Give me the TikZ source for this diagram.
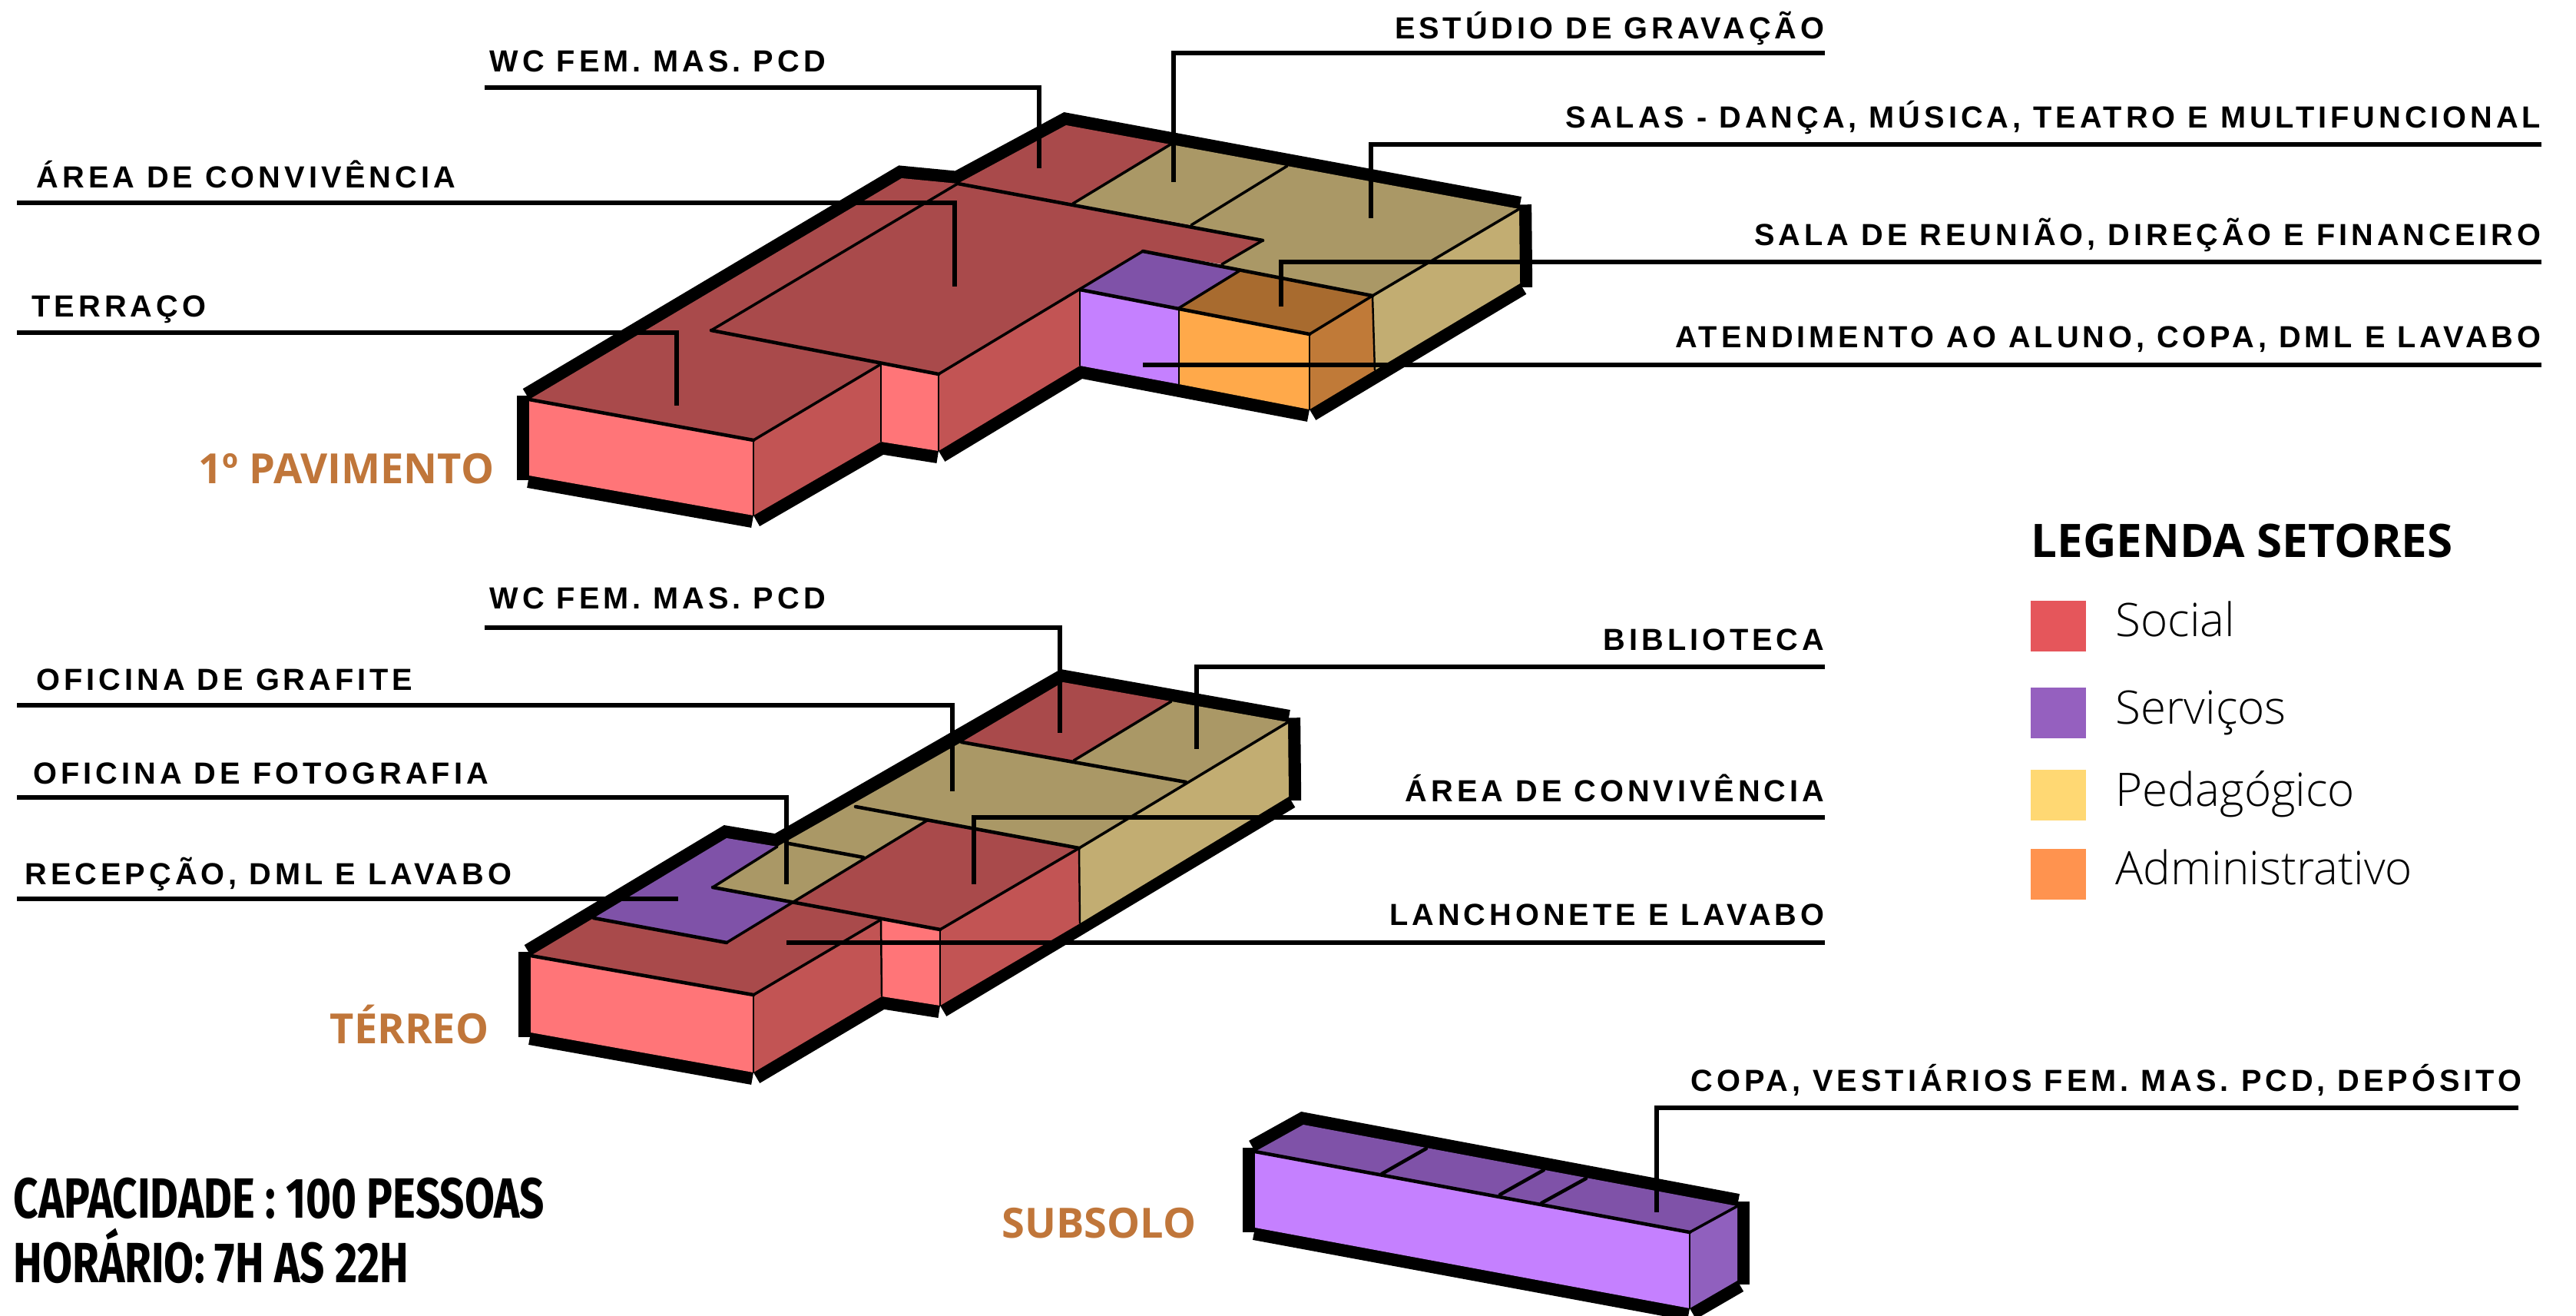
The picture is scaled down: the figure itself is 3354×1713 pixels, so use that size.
\documentclass[tikz,border=0pt]{standalone}
\usepackage{fontspec}
\setmainfont{Liberation Sans}
\newfontfamily\labelfont[LetterSpace=12.5]{Liberation Sans Bold}
\newfontfamily\floorfont{Open Sans}
\newfontfamily\legendfont{Open Sans}
\newfontfamily\lightfont{Open Sans Light}
\newfontfamily\notefont[FakeStretch=0.765]{Fira Sans Bold}
\usetikzlibrary{positioning}
\definecolor{roofred}{HTML}{A94A4B}
\definecolor{wallred}{HTML}{C25454}
\definecolor{frontred}{HTML}{FF7578}
\definecolor{rooftan}{HTML}{AA9866}
\definecolor{walltan}{HTML}{C2AD72}
\definecolor{roofpurple}{HTML}{7F52A8}
\definecolor{frontpurple}{HTML}{C580FF}
\definecolor{wallpurple}{HTML}{9060BE}
\definecolor{rooforange}{HTML}{A86B2F}
\definecolor{frontorange}{HTML}{FFA94A}
\definecolor{wallorange}{HTML}{C07A38}
\definecolor{floorcolor}{HTML}{C0763A}
\tikzset{
    heavy/.style = {
        draw=black,
        line width=9.2pt,
        line cap=butt
    },
    stub/.style = {shorten <=-1.6pt, shorten >=-1.4pt},
    strong/.style = {draw=black, line width=1.3pt, line cap=round},
    medium/.style = {draw=black, line width=1pt, line cap=round},
    thin wall/.style = {draw=black, line width=0.7pt},
    leader/.style = {draw=black, line width=1.6pt},
    tagleft/.style = {anchor=base west, inner sep=0, font=\labelfont\fontsize{11.3}{13}\selectfont},
    tagright/.style = {anchor=base east, inner sep=0, font=\labelfont\fontsize{11.3}{13}\selectfont},
    floorname/.style = {anchor=base east, inner sep=0, text=floorcolor, font=\floorfont\bfseries\fontsize{15.4}{18}\selectfont},
    swatch/.style = {anchor=north west, inner sep=0, minimum width=20.5pt, minimum height=18.8pt},
    swatchname/.style = {anchor=base west, inner sep=0, font=\lightfont\fontsize{17.1}{20}\selectfont},
    note/.style = {anchor=base west, inner sep=0, font=\notefont\fontsize{21}{24}\selectfont},
}

\begin{document}
\begin{tikzpicture}[x=0.01cm, y=-0.01cm]
    \useasboundingbox (0,0) rectangle (3354,1713);

    % 1o pavimento
    \coordinate (a1) at (689,520);
    \coordinate (a1b) at (689,619);
    \coordinate (b1) at (981,573);
    \coordinate (b1b) at (981,671);
    \coordinate (c1) at (1147,474);
    \coordinate (c1b) at (1147,575);
    \coordinate (d1) at (1222,487);
    \coordinate (d1b) at (1222,587);
    \coordinate (e1) at (1406,377);
    \coordinate (e1b) at (1406,476);
    \coordinate (p1) at (1535,401);
    \coordinate (p1b) at (1535,500);
    \coordinate (o1) at (1705,435);
    \coordinate (o1b) at (1705,533);
    \coordinate (g1) at (1787,385);
    \coordinate (g1b) at (1790,482);
    \coordinate (h1) at (1978,272);
    \coordinate (h1b) at (1979,369);
    \coordinate (i1) at (1388,163);
    \coordinate (j1) at (1524,188);
    \coordinate (k1) at (1397,265);
    \coordinate (l1) at (1676,216);
    \coordinate (m1) at (1551,293);
    \coordinate (n1) at (1644,313);
    \coordinate (q1) at (1591,344);
    \coordinate (f1) at (1488,327);
    \coordinate (r1) at (1613,353);
    \coordinate (s1) at (1174,232);
    \coordinate (t1) at (1247,239);
    \coordinate (u1) at (926,430);

    \path[heavy] (a1) -- (s1) -- (t1) -- (i1) -- (h1);
    \path[heavy, stub] (h1) -- (h1b);
    \path[heavy] (h1b) -- (o1b);
    \path[heavy] (o1b) -- (e1b);
    \path[heavy] (e1b) -- (d1b);
    \path[heavy] (d1b) -- (c1b);
    \path[heavy] (c1b) -- (b1b);
    \path[heavy] (b1b) -- (a1b);
    \path[heavy, stub] (a1b) -- (a1);

    \fill[roofred] (a1) -- (s1) -- (t1) -- (i1) -- (j1) -- (k1) -- (m1) -- (n1) -- (q1) -- (f1) -- (e1) -- (d1) -- (c1) -- (b1) -- cycle;
    \fill[rooftan] (j1) -- (h1) -- (g1) -- (r1) -- (q1) -- (n1) -- (m1) -- (k1) -- cycle;
    \fill[roofpurple] (f1) -- (r1) -- (p1) -- (e1) -- cycle;
    \fill[rooforange] (r1) -- (g1) -- (o1) -- (p1) -- cycle;
    \fill[frontred] (a1) -- (b1) -- (b1b) -- (a1b) -- cycle;
    \fill[wallred] (b1) -- (c1) -- (c1b) -- (b1b) -- cycle;
    \fill[frontred] (c1) -- (d1) -- (d1b) -- (c1b) -- cycle;
    \fill[wallred] (d1) -- (e1) -- (e1b) -- (d1b) -- cycle;
    \fill[frontpurple] (e1) -- (p1) -- (p1b) -- (e1b) -- cycle;
    \fill[frontorange] (p1) -- (o1) -- (o1b) -- (p1b) -- cycle;
    \fill[wallorange] (o1) -- (g1) -- (g1b) -- (o1b) -- cycle;
    \fill[walltan] (g1) -- (h1) -- (h1b) -- (g1b) -- cycle;

    \path[strong] (t1) -- (n1);
    \path[strong] (f1) -- (g1);
    \path[strong] (e1) -- (o1);
    \path[strong] (a1) -- (b1);
    \path[strong] (u1) -- (d1);
    \path[medium] (t1) -- (u1);
    \path[medium] (n1) -- (q1);
    \path[medium] (j1) -- (k1);
    \path[medium] (l1) -- (m1);
    \path[medium] (f1) -- (d1);
    \path[medium] (r1) -- (p1);
    \path[medium] (g1) -- (o1);
    \path[medium] (g1) -- (h1);
    \path[medium] (b1) -- (c1);
    \foreach \w in {b1,c1,d1,e1,p1,o1,g1}
        \path[thin wall] (\w) -- (\w b);

    % terreo
    \coordinate (a2) at (691,1244);
    \coordinate (a2b) at (691,1344);
    \coordinate (b2) at (981,1295);
    \coordinate (b2b) at (981,1396);
    \coordinate (c2) at (1147,1197);
    \coordinate (c2b) at (1148,1297);
    \coordinate (d2) at (1224,1210);
    \coordinate (d2b) at (1224,1309);
    \coordinate (e2) at (1405,1104);
    \coordinate (e2b) at (1406,1202);
    \coordinate (h2) at (1677,940);
    \coordinate (h2b) at (1678,1037);
    \coordinate (i2) at (1384,888);
    \coordinate (j2) at (1525,913);
    \coordinate (k2) at (1398,990);
    \coordinate (l2) at (1252,966);
    \coordinate (m2) at (1544,1018);
    \coordinate (n2) at (1114,1050);
    \coordinate (q2) at (1207,1068);
    \coordinate (r2) at (1124,1116);
    \coordinate (w2) at (1012,1102);
    \coordinate (s2) at (946,1091);
    \coordinate (u2) at (928,1155);
    \coordinate (v2) at (1027,1098);
    \coordinate (x2) at (1031,1174);
    \coordinate (y2) at (946,1227);
    \coordinate (z2) at (773,1195);

    \path[heavy] (a2) -- (s2) -- (w2) -- (i2) -- (h2);
    \path[heavy, stub] (h2) -- (h2b);
    \path[heavy] (h2b) -- (d2b);
    \path[heavy] (d2b) -- (c2b);
    \path[heavy] (c2b) -- (b2b);
    \path[heavy] (b2b) -- (a2b);
    \path[heavy, stub] (a2b) -- (a2);

    \fill[roofred] (a2) -- (z2) -- (y2) -- (x2) -- (c2) -- (b2) -- cycle;
    \fill[roofpurple] (z2) -- (s2) -- (w2) -- (u2) -- (x2) -- (y2) -- cycle;
    \fill[rooftan] (w2) -- (l2) -- (m2) -- (e2) -- (q2) -- (x2) -- (u2) -- cycle;
    \fill[roofred] (l2) -- (i2) -- (j2) -- (k2) -- cycle;
    \fill[rooftan] (j2) -- (h2) -- (m2) -- (k2) -- cycle;
    \fill[roofred] (q2) -- (e2) -- (d2) -- (c2) -- (x2) -- cycle;
    \fill[frontred] (a2) -- (b2) -- (b2b) -- (a2b) -- cycle;
    \fill[wallred] (b2) -- (c2) -- (c2b) -- (b2b) -- cycle;
    \fill[frontred] (c2) -- (d2) -- (d2b) -- (c2b) -- cycle;
    \fill[wallred] (d2) -- (e2) -- (e2b) -- (d2b) -- cycle;
    \fill[walltan] (m2) -- (h2) -- (h2b) -- (e2b) -- (e2) -- cycle;

    \path[strong] (a2) -- (b2);
    \path[strong] (u2) -- (d2);
    \path[strong] (l2) -- (m2);
    \path[strong] (n2) -- (e2);
    \path[strong] (z2) -- (y2);
    \path[strong] (v2) -- (r2);
    \path[medium] (w2) -- (u2);
    \path[medium] (q2) -- (y2);
    \path[medium] (j2) -- (k2);
    \path[medium] (h2) -- (e2);
    \path[medium] (e2) -- (d2);
    \path[medium] (c2) -- (b2);
    \foreach \w in {b2,c2,d2,e2}
        \path[thin wall] (\w) -- (\w b);

    % subsolo
    \coordinate (a3) at (1634,1499);
    \coordinate (a3b) at (1634,1598);
    \coordinate (b3) at (2200,1604);
    \coordinate (b3b) at (2200,1703);
    \coordinate (h3) at (2262,1570);
    \coordinate (h3b) at (2262,1667);
    \coordinate (i3) at (1697,1464);
    \coordinate (j3) at (1857,1495);
    \coordinate (k3) at (1799,1528);
    \coordinate (l3) at (2010,1523);
    \coordinate (m3) at (1953,1555);
    \coordinate (n3) at (2065,1534);
    \coordinate (q3) at (2007,1566);

    \path[heavy] (a3) -- (i3) -- (h3);
    \path[heavy, stub] (h3) -- (h3b);
    \path[heavy] (h3b) -- (b3b);
    \path[heavy] (b3b) -- (a3b);
    \path[heavy, stub] (a3b) -- (a3);

    \fill[roofpurple] (a3) -- (i3) -- (h3) -- (b3) -- cycle;
    \fill[frontpurple] (a3) -- (b3) -- (b3b) -- (a3b) -- cycle;
    \fill[wallpurple] (b3) -- (h3) -- (h3b) -- (b3b) -- cycle;

    \path[strong] (a3) -- (b3);
    \path[strong] (j3) -- (k3);
    \path[strong] (l3) -- (m3);
    \path[strong] (n3) -- (q3);
    \path[medium] (b3) -- (h3);
    \path[thin wall] (b3) -- (b3b);

    % rotulos 1o pavimento
    \node[tagleft] (wc1) at (637,94) {WC FEM. MAS. PCD};
    \node[tagright] (estudio) at (2376,51) {ESTÚDIO DE GRAVAÇÃO};
    \node[tagright] (salas) at (3309,167) {SALAS - DANÇA, MÚSICA, TEATRO E MULTIFUNCIONAL};
    \node[tagleft] (conv1) at (47,245) {ÁREA DE CONVIVÊNCIA};
    \node[tagleft] (terraco) at (41,413) {TERRAÇO};
    \node[tagright] (reuniao) at (3309,320) {SALA DE REUNIÃO, DIREÇÃO E FINANCEIRO};
    \node[tagright] (atend) at (3309,453) {ATENDIMENTO AO ALUNO, COPA, DML E LAVABO};
    \node[floorname] (pav1) at (644,630) {1º PAVIMENTO};

    \coordinate (wc1a) at (631,114);
    \coordinate (wc1b) at (1353,219);
    \coordinate (estudioa) at (2376,69);
    \coordinate (estudiob) at (1528,237);
    \coordinate (salasa) at (3309,188);
    \coordinate (salasb) at (1785,284);
    \coordinate (conv1a) at (22,264);
    \coordinate (conv1b) at (1243,373);
    \coordinate (terracoa) at (22,433);
    \coordinate (terracob) at (881,528);
    \coordinate (reuniaoa) at (3309,341);
    \coordinate (reuniaob) at (1668,399);
    \coordinate (atenda) at (3309,475);
    \coordinate (atendb) at (1488,475);
    \path[leader] (wc1a) -| (wc1b);
    \path[leader] (estudioa) -| (estudiob);
    \path[leader] (salasa) -| (salasb);
    \path[leader] (conv1a) -| (conv1b);
    \path[leader] (terracoa) -| (terracob);
    \path[leader] (reuniaoa) -| (reuniaob);
    \path[leader] (atenda) -- (atendb);

    % rotulos terreo
    \node[tagleft] (wc2) at (637,793) {WC FEM. MAS. PCD};
    \node[tagright] (biblio) at (2376,847) {BIBLIOTECA};
    \node[tagleft] (grafite) at (47,899) {OFICINA DE GRAFITE};
    \node[tagleft] (foto) at (43,1021) {OFICINA DE FOTOGRAFIA};
    \node[tagleft] (recep) at (32,1152) {RECEPÇÃO, DML E LAVABO};
    \node[tagright] (conv2) at (2376,1044) {ÁREA DE CONVIVÊNCIA};
    \node[tagright] (lanch) at (2376,1205) {LANCHONETE E LAVABO};
    \node[floorname] (pav2) at (637,1358) {TÉRREO};

    \coordinate (wc2a) at (631,817);
    \coordinate (wc2b) at (1380,954);
    \coordinate (biblioa) at (2376,868);
    \coordinate (bibliob) at (1558,975);
    \coordinate (grafitea) at (22,918);
    \coordinate (grafiteb) at (1240,1030);
    \coordinate (fotoa) at (22,1038);
    \coordinate (fotob) at (1024,1151);
    \coordinate (recepa) at (22,1170);
    \coordinate (recepb) at (883,1170);
    \coordinate (conv2a) at (2376,1064);
    \coordinate (conv2b) at (1268,1151);
    \coordinate (lancha) at (2376,1227);
    \coordinate (lanchb) at (1024,1227);
    \path[leader] (wc2a) -| (wc2b);
    \path[leader] (biblioa) -| (bibliob);
    \path[leader] (grafitea) -| (grafiteb);
    \path[leader] (fotoa) -| (fotob);
    \path[leader] (recepa) -- (recepb);
    \path[leader] (conv2a) -| (conv2b);
    \path[leader] (lancha) -- (lanchb);

    % rotulos subsolo
    \node[tagleft] (copa) at (2201,1420) {COPA, VESTIÁRIOS FEM. MAS. PCD, DEPÓSITO};
    \node[floorname] (pav3) at (1558,1611) {SUBSOLO};
    \coordinate (copaa) at (3279,1442);
    \coordinate (copab) at (2157,1578);
    \path[leader] (copaa) -| (copab);

    % legenda
    \node[anchor=base west, inner sep=0, font=\legendfont\bfseries\fontsize{17.1}{20}\selectfont] (legtitle) at (2644,726) {LEGENDA SETORES};
    \node[swatch, fill={rgb,255:red,229;green,86;blue,91}] (social) at (2643,781) {};
    \node[swatch, fill={rgb,255:red,149;green,96;blue,191}] (servicos) at (2643,894) {};
    \node[swatch, fill={rgb,255:red,255;green,216;blue,115}] (pedag) at (2643,1001) {};
    \node[swatch, fill={rgb,255:red,255;green,147;blue,79}] (admin) at (2643,1104) {};
    \node[swatchname] (socialname) at (2754,829) {Social};
    \node[swatchname] (servicosname) at (2754,943) {Serviços};
    \node[swatchname] (pedagname) at (2754,1050) {Pedagógico};
    \node[swatchname] (adminname) at (2754,1152) {Administrativo};

    \node[note] (capacidade) at (17,1585) {CAPACIDADE : 100 PESSOAS};
    \node[note] (horario) at (17,1669) {HORÁRIO: 7H AS 22H};
\end{tikzpicture}
\end{document}
